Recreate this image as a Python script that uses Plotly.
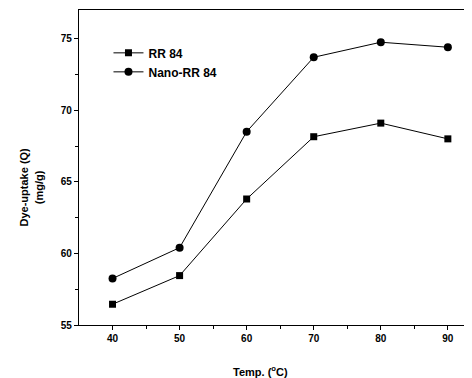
import plotly.graph_objects as go

temps = [40, 50, 60, 70, 80, 90]
rr84 = [56.45, 58.45, 63.8, 68.15, 69.1, 68.0]
nano_rr84 = [58.25, 60.4, 68.5, 73.7, 74.75, 74.4]
series_names = ["RR 84", "Nano-RR 84"]

font_family = "Liberation Sans, Arial, sans-serif"

fig = go.Figure()
fig.add_trace(go.Scatter(
    x=temps, y=rr84, name=series_names[0], mode="lines+markers",
    line=dict(color="black", width=1),
    marker=dict(symbol="square", size=7, color="black"),
))
fig.add_trace(go.Scatter(
    x=temps, y=nano_rr84, name=series_names[1], mode="lines+markers",
    line=dict(color="black", width=1),
    marker=dict(symbol="circle", size=8, color="black"),
))

fig.update_layout(
    width=464, height=370,
    margin=dict(l=71, r=0, t=2, b=53),
    paper_bgcolor="white", plot_bgcolor="white",
    font=dict(family=font_family, color="black", size=11),
    showlegend=True,
    legend=dict(
        x=0.075, y=0.91, xanchor="left", yanchor="top",
        bgcolor="rgba(0,0,0,0)", borderwidth=0,
        font=dict(family=font_family, size=12, color="black", weight="bold"),
        tracegroupgap=0, itemwidth=30,
    ),
    xaxis=dict(
        range=[35, 93.6], tickvals=[40, 50, 60, 70, 80, 90],
        showgrid=False, zeroline=False,
        showline=True, linecolor="black", linewidth=1.2, mirror=True,
        ticks="outside", ticklen=4, tickwidth=1, tickcolor="black",
        tickfont=dict(family=font_family, size=10, weight="bold"),
        minor=dict(tickvals=[45, 55, 65, 75, 85], ticks="outside", ticklen=2.5, tickcolor="black"),
    ),
    yaxis=dict(
        range=[55, 77], tickvals=[55, 60, 65, 70, 75],
        showgrid=False, zeroline=False,
        showline=True, linecolor="black", linewidth=1.2, mirror=False,
        ticks="outside", ticklen=4, tickwidth=1, tickcolor="black",
        tickfont=dict(family=font_family, size=10, weight="bold"),
        minor=dict(tickvals=[57.5, 62.5, 67.5, 72.5], ticks="outside", ticklen=2.5, tickcolor="black"),
    ),
)

fig.add_annotation(
    text="Dye-uptake (Q)<br>(mg/g)", textangle=-90,
    xref="paper", yref="paper", x=-0.121, y=0.438,
    xanchor="center", yanchor="middle", showarrow=False,
    font=dict(family=font_family, size=11, weight="bold"),
)
fig.add_annotation(
    text="Temp. (<sup>o</sup>C)",
    xref="x", yref="paper", x=62, y=-0.146,
    xanchor="center", yanchor="middle", showarrow=False,
    font=dict(family=font_family, size=11, weight="bold"),
)

fig.write_html("out.html")
